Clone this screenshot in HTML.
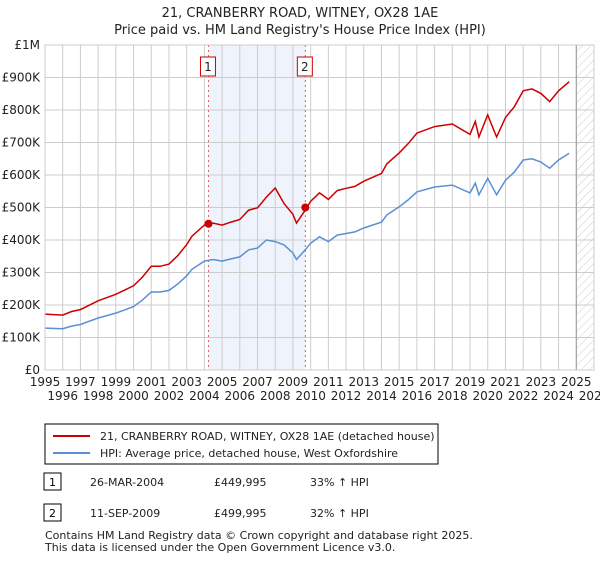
<!DOCTYPE html>
<html><head><meta charset="utf-8"><style>
body{margin:0;background:#fff;font-family:"Liberation Sans","DejaVu Sans",sans-serif;}
svg text{font-family:"DejaVu Sans","Liberation Sans",sans-serif;}
</style></head><body>
<svg id="c" width="600" height="560" xmlns="http://www.w3.org/2000/svg">
<defs><pattern id="hatch" width="6" height="6" patternUnits="userSpaceOnUse" patternTransform="rotate(45)"><line x1="0" y1="0" x2="0" y2="6" stroke="#ccc" stroke-width="1"/></pattern></defs>
<text x="300" y="17" text-anchor="middle" font-size="13" fill="#222">21, CRANBERRY ROAD, WITNEY, OX28 1AE</text>
<text x="300" y="34" text-anchor="middle" font-size="13" fill="#222">Price paid vs. HM Land Registry's House Price Index (HPI)</text>
<g id="plot"></g>
<rect x="45" y="424" width="393" height="40" fill="#fff" stroke="#000" stroke-width="1"/>
<line x1="53" y1="436" x2="90" y2="436" stroke="#cc0000" stroke-width="2"/>
<text x="100" y="440" font-size="11" fill="#222">21, CRANBERRY ROAD, WITNEY, OX28 1AE (detached house)</text>
<line x1="53" y1="453" x2="90" y2="453" stroke="#5b8fd4" stroke-width="2"/>
<text x="100" y="457" font-size="11" fill="#222">HPI: Average price, detached house, West Oxfordshire</text>
<rect x="44" y="473" width="17" height="17" fill="#fff" stroke="#000"/>
<text x="52.5" y="486" text-anchor="middle" font-size="11">1</text>
<text x="90" y="486" font-size="11" fill="#222">26-MAR-2004</text>
<text x="214" y="486" font-size="11" fill="#222">£449,995</text>
<text x="310" y="486" font-size="11" fill="#222">33% ↑ HPI</text>
<rect x="44" y="504" width="17" height="17" fill="#fff" stroke="#000"/>
<text x="52.5" y="517" text-anchor="middle" font-size="11">2</text>
<text x="90" y="517" font-size="11" fill="#222">11-SEP-2009</text>
<text x="214" y="517" font-size="11" fill="#222">£499,995</text>
<text x="310" y="517" font-size="11" fill="#222">32% ↑ HPI</text>
<text x="45" y="539" font-size="11" fill="#222">Contains HM Land Registry data © Crown copyright and database right 2025.</text>
<text x="45" y="551" font-size="11" fill="#222">This data is licensed under the Open Government Licence v3.0.</text>
</svg>
<script>
const years=[1995,1996,1996.5,1997,1998,1999,1999.5,2000,2000.5,2001,2001.5,2002,2002.5,2003,2003.3,2004,2004.5,2005,2005.5,2006,2006.5,2007,2007.5,2008,2008.5,2009,2009.2,2009.7,2010,2010.5,2011,2011.5,2012,2012.5,2013,2014,2014.3,2015,2015.5,2016,2017,2018,2019,2019.3,2019.5,2020,2020.5,2021,2021.5,2022,2022.5,2023,2023.5,2024,2024.6];
const hpiValues=[129,127,135,140,160,175,185,195,215,240,240,245,265,290,310,335,340,335,342,348,370,375,400,395,385,360,340,370,390,410,395,415,420,425,437,455,477,502,523,548,563,569,545,575,539,590,539,584,609,646,650,640,621,646,667];
const priceValues=[172,169,180,186,213,233,246,259,286,319,319,326,352,386,412,446,452,446,455,463,492,499,532,560,512,479,452,492,519,545,525,552,559,565,581,605,634,668,696,729,749,757,725,765,717,785,717,777,810,859,865,851,826,859,887];
const saleYears=[2004.23,2009.7];
const saleValues=[450,500];
const saleLabels=["1","2"];
const yTicks=[0,100,200,300,400,500,600,700,800,900,1000];
const yTickLabels=["£0","£100K","£200K","£300K","£400K","£500K","£600K","£700K","£800K","£900K","£1M"];
const xTicks=[1995,1996,1997,1998,1999,2000,2001,2002,2003,2004,2005,2006,2007,2008,2009,2010,2011,2012,2013,2014,2015,2016,2017,2018,2019,2020,2021,2022,2023,2024,2025,2026];

const X0=45,X1=594,Y0=370,Y1=45;
const xs=y=>X0+(y-1995)/(2026-1995)*(X1-X0);
const ys=v=>Y0-v/1000*(Y0-Y1);
const NS="http://www.w3.org/2000/svg";
const g=document.getElementById('plot');
function mk(t,a){const e=document.createElementNS(NS,t);for(const k in a)e.setAttribute(k,a[k]);g.appendChild(e);return e;}
let e;
e=mk('rect',{x:xs(saleYears[0]),y:Y1,width:xs(saleYears[1])-xs(saleYears[0]),height:Y0-Y1,fill:'#eef3fc'});


e=mk('rect',{x:xs(2025),y:Y1,width:X1-xs(2025),height:Y0-Y1,fill:'url(#hatch)'});


yTicks.forEach((v,i)=>{
 e=mk('line',{x1:X0,x2:X1,y1:ys(v),y2:ys(v),stroke:'#cccccc','stroke-width':1});
 
 
 e=mk('text',{x:X0-5,y:ys(v)+4,'text-anchor':'end','font-size':12,fill:'#222'});e.textContent=yTickLabels[i];
 
 
});
xTicks.forEach((y,i)=>{
 e=mk('line',{x1:xs(y),x2:xs(y),y1:Y1,y2:Y0,stroke:'#cccccc','stroke-width':1});
 
 
 e=mk('text',{x:xs(y),y:Y0+16+(i%2)*14,'text-anchor':'middle','font-size':12,fill:'#222'});e.textContent=y;
 
 
});
e=mk('line',{x1:xs(2025),x2:xs(2025),y1:Y1,y2:Y0,stroke:'#999','stroke-width':1});


saleYears.forEach((y,i)=>{
 e=mk('line',{x1:xs(y),x2:xs(y),y1:Y1,y2:Y0,stroke:'#e06060','stroke-width':1,'stroke-dasharray':'2,3'});
 
 
 e=mk('rect',{x:xs(y)-8,y:57,width:15,height:19,fill:'#fff',stroke:'#cc0000'});
 
 
 e=mk('text',{x:xs(y)-0.5,y:71,'text-anchor':'middle','font-size':12,fill:'#222'});e.textContent=saleLabels[i];
 
 
});
const pts=a=>years.map((y,i)=>xs(y).toFixed(1)+','+ys(a[i]).toFixed(1)).join(' ');
e=mk('polyline',{points:pts(hpiValues),fill:'none',stroke:'#5b8fd4','stroke-width':1.5});


e=mk('polyline',{points:pts(priceValues),fill:'none',stroke:'#cc0000','stroke-width':1.5});


saleYears.forEach((y,i)=>{
 e=mk('circle',{cx:xs(y),cy:ys(saleValues[i]),r:4,fill:'#cc0000'});
 
 
});
e=mk('rect',{x:X0,y:Y1,width:X1-X0,height:Y0-Y1,fill:'none',stroke:'#cccccc'});


</script>
</body></html>
